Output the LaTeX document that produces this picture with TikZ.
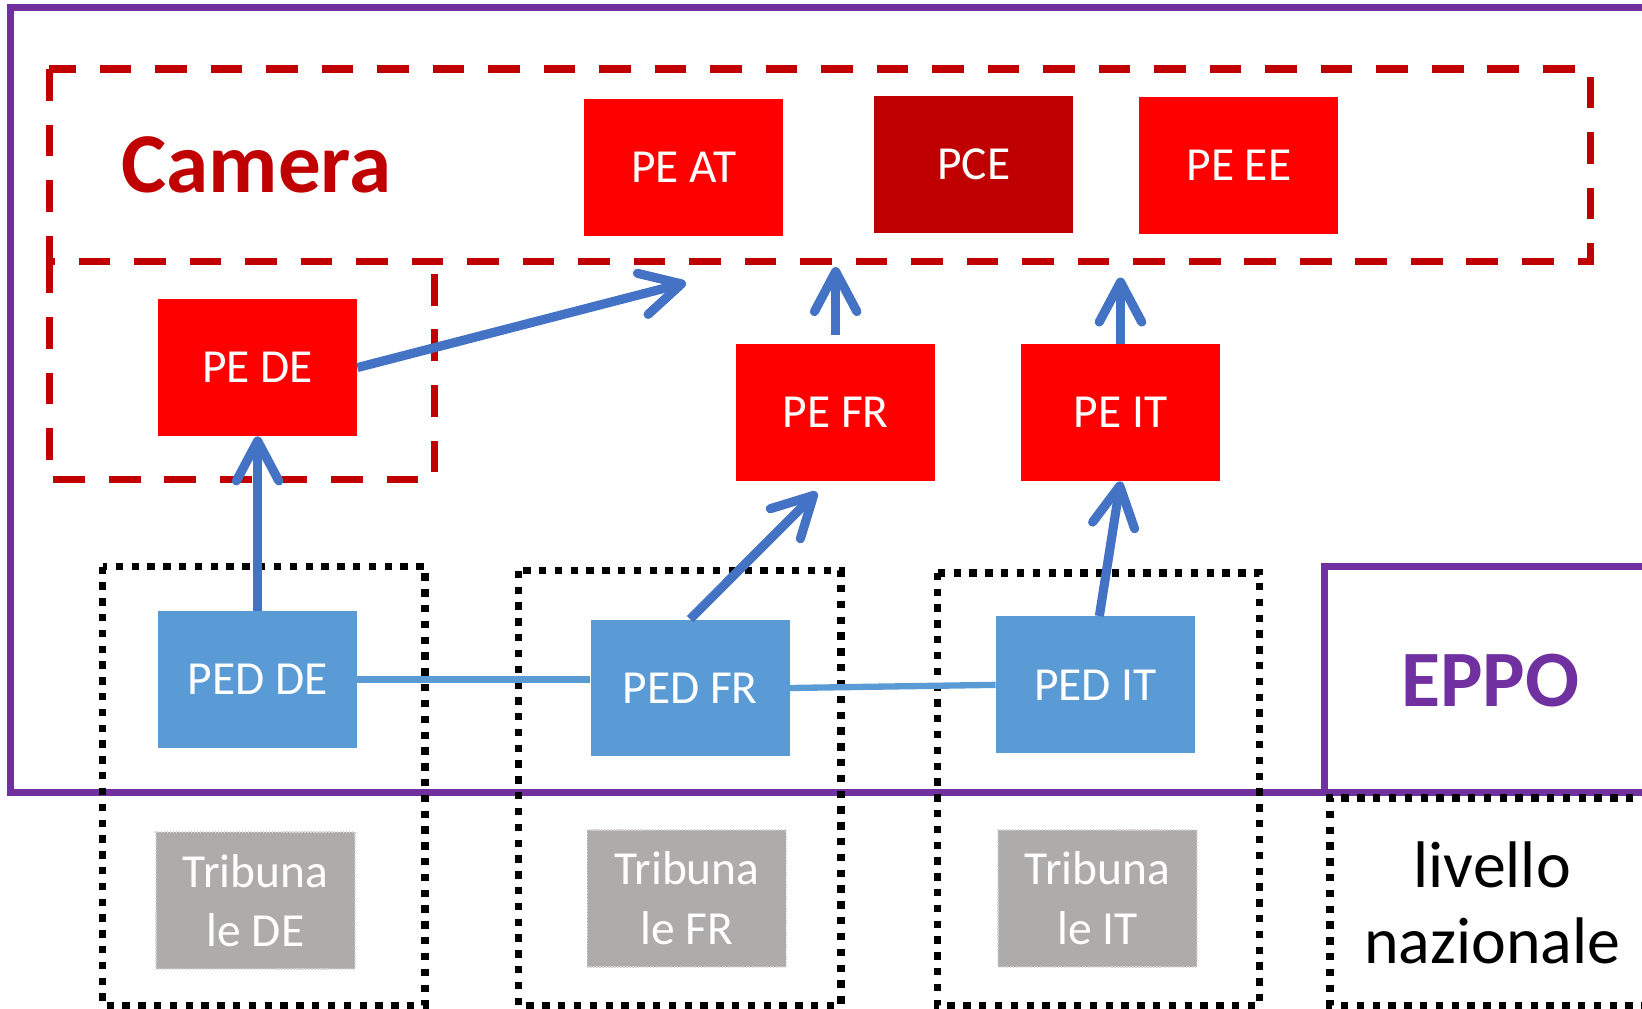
\documentclass[tikz,border=0pt]{standalone}
\usepackage{fontspec}
\setmainfont{Carlito}
\usetikzlibrary{arrows.meta}
\definecolor{pered}{HTML}{FF0000}
\definecolor{darkred}{HTML}{C00000}
\definecolor{pedblue}{HTML}{5B9BD5}
\definecolor{arrblue}{HTML}{4472C4}
\definecolor{eppopurple}{HTML}{7030A0}
\definecolor{tribgray}{HTML}{AEABAB}
\definecolor{tribborder}{HTML}{D6D4D4}
\tikzset{
  box/.style={minimum width=3.98cm, minimum height=2.74cm, inner sep=0pt, text=white, font=\fontsize{27}{32}\selectfont},
  pebox/.style={box, fill=pered},
  pcebox/.style={box, fill=darkred},
  pedbox/.style={box, fill=pedblue},
  tribbox/.style={box, fill=tribgray, draw=tribborder, densely dotted, line width=0.7pt, align=center, font=\fontsize{27}{34}\selectfont},
  reddash/.style={draw=darkred, line width=4.2pt, dash pattern=on 18pt off 13.6pt},
  blackdot/.style={draw=black, line width=4.2pt, dash pattern=on 4.2pt off 4.8pt},
  purpleline/.style={draw=eppopurple, line width=4pt},
  bluearrow/.style={draw=arrblue, line width=5.2pt, line join=round, -{Straight Barb[length=0.8cm, width=0.85cm, line cap=round, line join=round]}},
  blueline/.style={draw=pedblue, line width=3.6pt}
}
\begin{document}
\begin{tikzpicture}[x=0.020944cm, y=-0.020944cm]
\useasboundingbox (0,0) rectangle (1568,963.5);
% purple frames
\draw[purpleline] (1590,7) -- (10,7) -- (10,757) -- (1590,757);
\draw[purpleline] (1590,541) -- (1265,541) -- (1265,757);
% red dashed camera region
\draw[reddash] (47,66) rectangle (1519,250);
\draw[reddash] (47,250) -- (47,458) -- (415,458) -- (415,262);
% black dotted national boxes
\draw[blackdot] (98,541) rectangle (406,960);
\draw[blackdot] (495,545) rectangle (803,960);
\draw[blackdot] (895,547) rectangle (1203,960);
\draw[blackdot] (1590,762) -- (1270,762) -- (1270,960) -- (1590,960);
% texts
\node[text=darkred, font=\fontsize{48.5}{52}\selectfont\bfseries] (camera) at (245,157) {Camera};
\node[text=eppopurple, font=\fontsize{45.5}{50}\selectfont\bfseries] (eppo) at (1423,650) {EPPO};
\node[align=center, font=\fontsize{37.5}{43}\selectfont] (livello) at (1425,862) {livello\\nazionale};
% red boxes
\node[pebox] (peat) at (653,160) {PE AT};
\node[pcebox] (pce) at (930,157) {PCE};
\node[pebox] (peee) at (1183,158) {PE EE};
\node[pebox] (pede) at (246,351) {PE DE};
\node[pebox] (pefr) at (798,394) {PE FR};
\node[pebox] (peit) at (1070,394) {PE IT};
% blue boxes
\node[pedbox] (pedde) at (246,649) {PED DE};
\node[pedbox] (pedfr) at (659,657) {PED FR};
\node[pedbox] (pedit) at (1046,654) {PED IT};
% tribunali
\node[tribbox] (tribde) at (244,860) {Tribuna\\le DE};
\node[tribbox] (tribfr) at (656,858) {Tribuna\\le FR};
\node[tribbox] (tribit) at (1048,858) {Tribuna\\le IT};
% coordinates
\coordinate (deend) at (655,270);
\coordinate (frend) at (780,470);
\coordinate (frup) at (798,255);
\coordinate (itup) at (1070,265);
\coordinate (frtop) at (798,320);
% lines
\draw[blueline] (pedde.east) -- (pedfr.west |- pedde.east);
\draw[blueline] (pedfr.east) -- (pedit.west);
% arrows
\draw[bluearrow] (pedde.north) -- (pede.south);
\draw[bluearrow] (pede.east) -- (deend);
\draw[bluearrow] (pedfr.north) -- (frend);
\draw[bluearrow] ([xshift=0.08cm]pedit.north) -- (peit.south);
\draw[bluearrow] (frtop) -- (frup);
\draw[bluearrow] (peit.north) -- (itup);
\end{tikzpicture}
\end{document}
